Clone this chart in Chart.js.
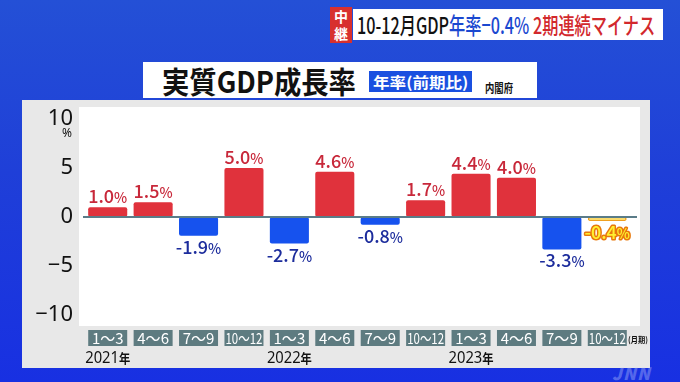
<!DOCTYPE html>
<html><head><meta charset="utf-8">
<script src="https://cdn.jsdelivr.net/npm/chart.js@4.4.0/dist/chart.umd.min.js"></script>
<style>
html,body{margin:0;padding:0;width:680px;height:382px;overflow:hidden;}
body{background:linear-gradient(180deg,#2450d6 0%,#1f3fd8 45%,#1830e2 100%);font-family:"Noto Sans CJK JP","Noto Sans",sans-serif;position:relative;}
.abs{position:absolute;}
.fit{display:inline-block;white-space:nowrap;transform-origin:0 50%;}
#panel{left:22px;top:100px;width:628px;height:268px;background:#e8e8e8;}
#redbox{left:330px;top:7px;width:22px;height:36px;background:#d8302e;color:#fff;font-weight:700;font-size:14px;line-height:17px;text-align:center;padding-top:1px;box-sizing:border-box;}
#whitebox{left:353px;top:9px;width:310px;height:31px;background:#fff;}
#headline{left:357px;top:9px;height:31px;line-height:31px;font-size:23px;font-weight:500;}
#titlebox{left:143px;top:62px;width:394px;height:36px;background:#fff;}
#title{left:162px;top:62px;height:36px;line-height:36px;font-size:30px;font-weight:700;color:#111;}
#sub{left:369px;top:71px;width:103px;height:21px;background:#1a50e0;}
#subtxt{left:373px;top:71px;height:21px;line-height:21px;font-size:15px;font-weight:700;color:#fff;}
#src{left:485px;top:80px;height:16px;line-height:16px;font-size:12px;font-weight:700;color:#111;}
#jnn{left:612px;top:360px;font-size:17px;font-weight:900;font-style:italic;color:rgba(200,210,255,0.35);letter-spacing:1px;}
canvas{position:absolute;left:0;top:0;}
</style></head>
<body>
<div class="abs" id="panel"></div>
<div class="abs" id="redbox">中<br>継</div>
<div class="abs" id="whitebox"></div>
<div class="abs" id="headline"><span class="fit" data-w="298"><span style="color:#111">10-12月GDP</span><span style="color:#1a48d0">年率−0.4%</span> <span style="color:#d2282c">2期連続マイナス</span></span></div>
<div class="abs" id="titlebox"></div>
<div class="abs" id="title"><span class="fit" data-w="194">実質GDP成長率</span></div>
<div class="abs" id="sub"></div>
<div class="abs" id="subtxt"><span class="fit" data-w="95">年率(前期比)</span></div>
<div class="abs" id="src"><span class="fit" data-w="28">内閣府</span></div>
<div class="abs" id="jnn">JNN</div>
<canvas id="c" width="680" height="382"></canvas>
<script>
const categories = ["1〜3","4〜6","7〜9","10〜12","1〜3","4〜6","7〜9","10〜12","1〜3","4〜6","7〜9","10〜12"];
const years = ["2021年","","","","2022年","","","","2023年","","",""];
const values = [1.0, 1.5, -1.9, 5.0, -2.7, 4.6, -0.8, 1.7, 4.4, 4.0, -3.3, -0.4];
const yTicks = [10, 5, 0, -5, -10];

document.querySelectorAll('.fit').forEach(el=>{
  const w = +el.dataset.w; const s = w/el.scrollWidth;
  el.style.transform = 'scaleX('+s+')';
});

const RED='#e0323c', BLUE='#1652ee', YEL='#ffe84a';
const colors = values.map((v,i)=> i===values.length-1 ? YEL : (v>=0?RED:BLUE));
const borders = values.map((v,i)=> i===values.length-1 ? '#f0a020' : 'rgba(0,0,0,0)');

function fitText(ctx, txt, x, y, maxW){
  const w = ctx.measureText(txt).width;
  if (w > maxW){
    ctx.save(); ctx.translate(x,y); ctx.scale(maxW/w,1); ctx.fillText(txt,0,0); ctx.restore();
  } else ctx.fillText(txt,x,y);
}

const deco = {
  id:'deco',
  beforeDatasetsDraw(chart){
    const {ctx, chartArea:a} = chart;
    ctx.save();
    ctx.fillStyle='#fff';
    ctx.fillRect(a.left-6, a.top, a.right-a.left+16, a.bottom-a.top);
    ctx.restore();
  },
  afterDatasetsDraw(chart){
    const {ctx, chartArea:a, scales:{x,y}} = chart;
    ctx.save();
    const y0 = y.getPixelForValue(0);
    ctx.strokeStyle='#5a7c88'; ctx.lineWidth=2;
    ctx.beginPath(); ctx.moveTo(a.left-2, y0); ctx.lineTo(a.right+7, y0); ctx.stroke();
    ctx.fillStyle='#111'; ctx.textAlign='right'; ctx.textBaseline='middle';
    ctx.font='22px "Noto Sans", sans-serif';
    yTicks.forEach(v=>{
      ctx.fillText(v<0?('−'+Math.abs(v)):String(v), 73, y.getPixelForValue(v));
    });
    ctx.font='12px "Noto Sans", sans-serif'; ctx.textAlign='center';
    ctx.fillText('%', 67, y.getPixelForValue(10)+15);
    const meta = chart.getDatasetMeta(0);
    const F1='500 18px "Noto Sans CJK JP", sans-serif', F2='500 14px "Noto Sans CJK JP", sans-serif';
    meta.data.forEach((bar,i)=>{
      const v = values[i];
      const num = (v<0?'-':'') + Math.abs(v).toFixed(1);
      ctx.font=F1; const w1 = ctx.measureText(num).width;
      ctx.font=F2; const w2 = ctx.measureText('%').width;
      const tot = w1+w2;
      const sx = bar.x - tot/2;
      const by = v>=0 ? bar.y-4 : bar.y+18;
      ctx.textAlign='left'; ctx.textBaseline='alphabetic';
      const last = i===values.length-1;
      const col = v>=0 ? '#c8283a' : '#1c2c9c';
      const draw = (t,xx,font)=>{
        ctx.font=font;
        if(last){
          ctx.lineJoin='round'; ctx.strokeStyle='#e8780c'; ctx.lineWidth=3;
          ctx.strokeText(t,xx,by); ctx.fillStyle='#fff030'; ctx.fillText(t,xx,by);
        } else { ctx.fillStyle=col; ctx.fillText(t,xx,by); }
      };
      draw(num, sx, F1);
      draw('%', sx+w1, F2);
    });
    categories.forEach((c,i)=>{
      const cx = x.getPixelForValue(i);
      ctx.fillStyle='#5e7b80';
      ctx.fillRect(cx-19.5, 330, 39, 16);
      ctx.fillStyle='#fff'; ctx.textAlign='center'; ctx.textBaseline='middle';
      ctx.font='15px "Noto Sans CJK JP", sans-serif';
      fitText(ctx, c, cx, 338.5, 37);
    });
    years.forEach((yr,i)=>{
      if(!yr) return;
      const cx = x.getPixelForValue(i);
      const n = yr.slice(0,4);
      ctx.textBaseline='alphabetic'; ctx.textAlign='left'; ctx.fillStyle='#111';
      ctx.font='17px "Noto Sans", sans-serif';
      const w1 = ctx.measureText(n).width;
      ctx.font='bold 13px "Noto Sans CJK JP", sans-serif';
      const w2 = ctx.measureText('年').width;
      const tot=w1+w2, target=45, s=Math.min(1,target/tot);
      ctx.save(); ctx.translate(cx - tot*s/2, 363); ctx.scale(s,1);
      ctx.font='17px "Noto Sans", sans-serif'; ctx.fillText(n,0,0);
      ctx.font='bold 13px "Noto Sans CJK JP", sans-serif'; ctx.fillText('年',w1,0);
      ctx.restore();
    });
    ctx.font='bold 8px "Noto Sans CJK JP", sans-serif'; ctx.fillStyle='#111';
    ctx.textAlign='left'; ctx.textBaseline='middle';
    const mw = ctx.measureText('(月期)').width;
    ctx.save(); ctx.translate(628, 340); ctx.scale(Math.min(1,20/mw),1); ctx.fillText('(月期)',0,0); ctx.restore();
    ctx.restore();
  }
};

new Chart(document.getElementById('c'), {
  type:'bar',
  data:{ labels:categories, datasets:[{ data:values, backgroundColor:colors, borderColor:borders,
    borderWidth: values.map((v,i)=> i===values.length-1?1.5:0), borderRadius:2, borderSkipped:false,
    barPercentage:0.86, categoryPercentage:1 }]},
  options:{
    responsive:false, devicePixelRatio:1, animation:false,
    layout:{padding:{left:85, right:50, top:107, bottom:56}},
    plugins:{legend:{display:false}, tooltip:{enabled:false}},
    scales:{
      x:{display:false, offset:true},
      y:{display:false, min:-11.1, max:11.2}
    }
  },
  plugins:[deco]
});
</script>
</body></html>
